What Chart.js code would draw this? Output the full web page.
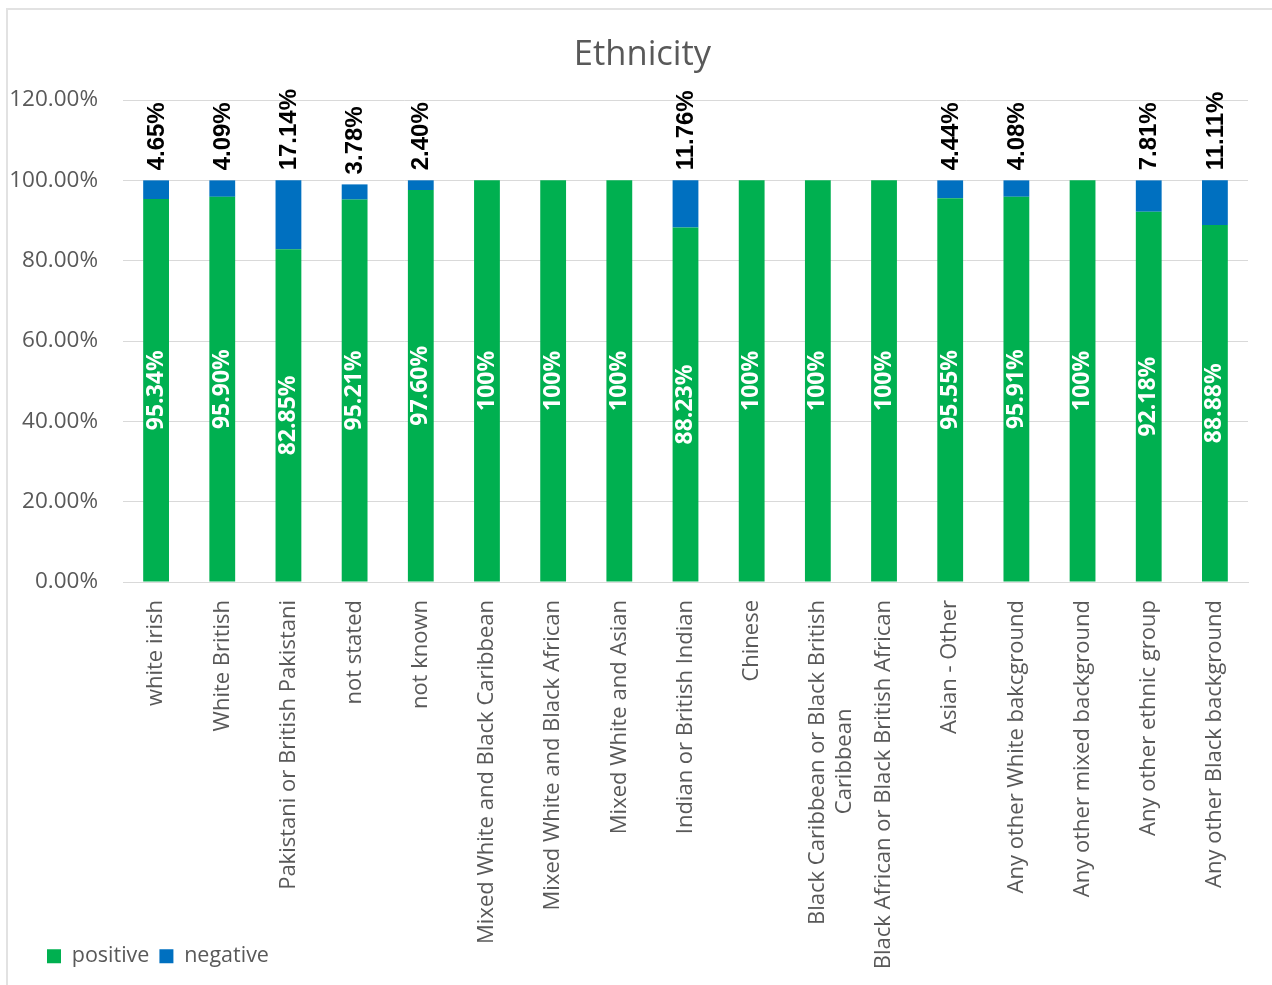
<!DOCTYPE html>
<html>
<head>
<meta charset="utf-8">
<title>Ethnicity</title>
<script src="https://cdn.jsdelivr.net/npm/chart.js@4.4.1/dist/chart.umd.min.js"></script>
<style>
  html, body { margin: 0; padding: 0; background: #ffffff; }
  canvas { display: block; }
</style>
</head>
<body>
<canvas id="chart" width="1272" height="985"></canvas>
<script>
// Ethnic groups along the x axis (one entry is split across two lines)
const categories = [
  "white irish",
  "White British",
  "Pakistani or British Pakistani",
  "not stated",
  "not known",
  "Mixed White and Black Caribbean",
  "Mixed White and Black African",
  "Mixed White and Asian",
  "Indian or British Indian",
  "Chinese",
  ["Black Caribbean or Black British", "Caribbean"],
  "Black African or Black British African",
  "Asian - Other",
  "Any other White bakcground",
  "Any other mixed background",
  "Any other ethnic group",
  "Any other Black background"
];

// Share of results per group, in percent
const positive = [95.34, 95.90, 82.85, 95.21, 97.60, 100, 100, 100, 88.23, 100, 100, 100, 95.55, 95.91, 100, 92.18, 88.88];
const negative = [4.65, 4.09, 17.14, 3.78, 2.40, 0, 0, 0, 11.76, 0, 0, 0, 4.44, 4.08, 0, 7.81, 11.11];

// Value axis ticks
const yTicks = [0, 20, 40, 60, 80, 100, 120];

const GREEN = "#00B050";
const BLUE = "#0070C0";
const GREY_TEXT = "#595959";
const GRID = "#d9d9d9";
const AXIS_FONT = { family: "'Open Sans', sans-serif", size: 22 };

function fmtPct(v) {
  return v === 100 ? "100%" : v.toFixed(2) + "%";
}

// Pad shorter lines of a multi-line label so every line sits centred
const measureCtx = document.createElement("canvas").getContext("2d");
function centreLines(label) {
  if (!Array.isArray(label)) return label;
  measureCtx.font = AXIS_FONT.size + "px " + AXIS_FONT.family;
  const widths = label.map(l => measureCtx.measureText(l).width);
  const maxW = Math.max(...widths);
  const spaceW = measureCtx.measureText(" ").width;
  return label.map((l, i) => l + " ".repeat(Math.round((maxW - widths[i]) / 2 / spaceW)));
}

// Let tick labels run past their own axis box (long rotated names, wide % labels)
function noLabelClip(scale) {
  scale._computeLabelArea = () => undefined;
}

// White frame with a light outline on the top and left edges
const framePlugin = {
  id: "frame",
  beforeDraw(chart) {
    const ctx = chart.ctx;
    ctx.save();
    ctx.fillStyle = "#ffffff";
    ctx.fillRect(0, 0, chart.width, chart.height);
    ctx.strokeStyle = "#e2e2e2";
    ctx.lineWidth = 2;
    ctx.beginPath();
    ctx.moveTo(7, chart.height);
    ctx.lineTo(7, 9);
    ctx.lineTo(chart.width, 9);
    ctx.stroke();
    ctx.restore();
  }
};

// Rotated value labels: inside the green bars and above each stack for the blue part
const valueLabelPlugin = {
  id: "valueLabels",
  afterDatasetsDraw(chart) {
    const ctx = chart.ctx;
    const posMeta = chart.getDatasetMeta(0);
    const negMeta = chart.getDatasetMeta(1);

    posMeta.data.forEach((bar, i) => {
      const v = positive[i];
      ctx.save();
      ctx.translate(bar.x, (bar.y + bar.base) / 2);
      ctx.rotate(-Math.PI / 2);
      ctx.font = "bold 23px 'Open Sans', sans-serif";
      ctx.fillStyle = "#ffffff";
      ctx.textAlign = "center";
      ctx.textBaseline = "middle";
      ctx.fillText(fmtPct(v), 0, 0);
      ctx.restore();
    });

    negMeta.data.forEach((bar, i) => {
      const v = negative[i];
      if (!v) return;
      ctx.save();
      ctx.translate(bar.x + 1, bar.y - 10);
      ctx.rotate(-Math.PI / 2);
      ctx.font = "bold 24px 'Liberation Sans', Arial, sans-serif";
      ctx.fillStyle = "#000000";
      ctx.textAlign = "left";
      ctx.textBaseline = "middle";
      ctx.fillText(fmtPct(v), 0, 0);
      ctx.restore();
    });
  }
};

const PLOT_BOTTOM = 582;
const PLOT_LEFT = 123;
const PAD = { left: 37, right: 24, top: 34, bottom: 8 };

new Chart(document.getElementById("chart"), {
  type: "bar",
  data: {
    labels: categories,
    datasets: [
      { label: "positive", data: positive, backgroundColor: GREEN, borderWidth: 0 },
      { label: "negative", data: negative, backgroundColor: BLUE, borderWidth: 0 }
    ]
  },
  options: {
    responsive: false,
    animation: false,
    layout: { padding: PAD },
    datasets: { bar: { categoryPercentage: 1, barPercentage: 0.39 } },
    plugins: {
      title: {
        display: true,
        text: "Ethnicity",
        color: GREY_TEXT,
        font: { family: "'Open Sans', sans-serif", size: 34.5, weight: "normal" },
        padding: { top: 0, bottom: 24.6 }
      },
      legend: {
        display: true,
        position: "bottom",
        align: "start",
        labels: {
          color: GREY_TEXT,
          font: { family: "'Open Sans', sans-serif", size: 21.5 },
          boxWidth: 14,
          boxHeight: 14,
          padding: 10
        }
      },
      tooltip: { enabled: false }
    },
    scales: {
      x: {
        stacked: true,
        grid: { display: false, drawTicks: false },
        border: { display: true, color: GRID, width: 1 },
        ticks: {
          color: GREY_TEXT,
          font: AXIS_FONT,
          minRotation: 90,
          maxRotation: 90,
          autoSkip: false,
          padding: 18,
          callback: function (value, index) {
            return centreLines(categories[index]);
          }
        },
        afterFit(scale) {
          noLabelClip(scale);
          const c = scale.chart;
          const lg = c.legend ? c.legend.height : 0;
          scale.height = c.height - PAD.bottom - lg - PLOT_BOTTOM;
        }
      },
      y: {
        stacked: true,
        min: yTicks[0],
        max: yTicks[yTicks.length - 1],
        afterBuildTicks(scale) {
          scale.ticks = yTicks.map(v => ({ value: v }));
        },
        grid: { color: GRID, lineWidth: 1, drawTicks: false },
        border: { display: false },
        ticks: {
          color: GREY_TEXT,
          font: { family: "'Open Sans', sans-serif", size: 22.5 },
          padding: 25,
          callback: v => Number(v).toFixed(2) + "%"
        },
        afterFit(scale) {
          noLabelClip(scale);
          scale.width = PLOT_LEFT - PAD.left;
        }
      }
    }
  },
  plugins: [framePlugin, valueLabelPlugin]
});
</script>
</body>
</html>
